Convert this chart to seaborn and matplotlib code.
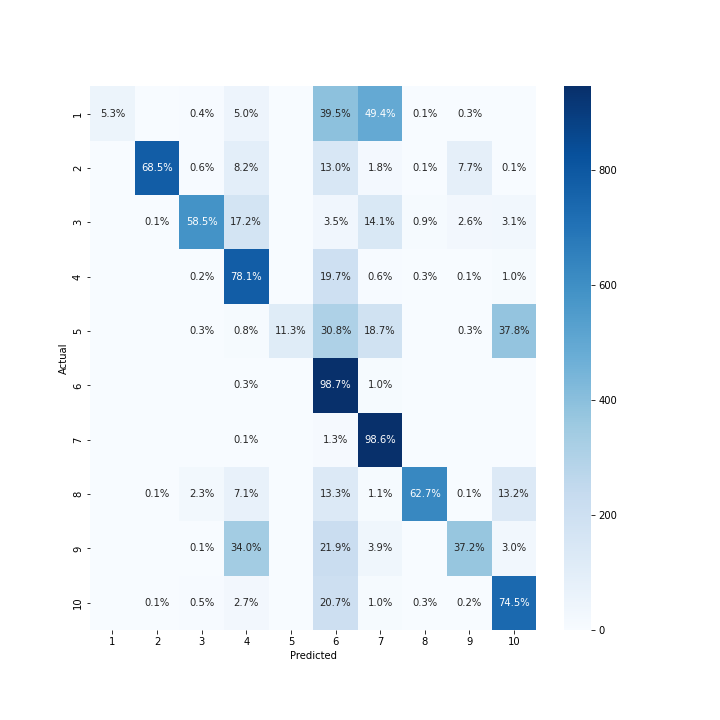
import numpy as np
import matplotlib
matplotlib.use("Agg")
import matplotlib.pyplot as plt
import seaborn as sns

classes = ["1", "2", "3", "4", "5", "6", "7", "8", "9", "10"]

# row-normalised percentages (Actual rows x Predicted columns), 0 = empty cell
row1 = [5.3, 0, 0.4, 5.0, 0, 39.5, 49.4, 0.1, 0.3, 0]
row2 = [0, 68.5, 0.6, 8.2, 0, 13.0, 1.8, 0.1, 7.7, 0.1]
row3 = [0, 0.1, 58.5, 17.2, 0, 3.5, 14.1, 0.9, 2.6, 3.1]
row4 = [0, 0, 0.2, 78.1, 0, 19.7, 0.6, 0.3, 0.1, 1.0]
row5 = [0, 0, 0.3, 0.8, 11.3, 30.8, 18.7, 0, 0.3, 37.8]
row6 = [0, 0, 0, 0.3, 0, 98.7, 1.0, 0, 0, 0]
row7 = [0, 0, 0, 0.1, 0, 1.3, 98.6, 0, 0, 0]
row8 = [0, 0.1, 2.3, 7.1, 0, 13.3, 1.1, 62.7, 0.1, 13.2]
row9 = [0, 0, 0.1, 34.0, 0, 21.9, 3.9, 0, 37.2, 3.0]
row10 = [0, 0.1, 0.5, 2.7, 0, 20.7, 1.0, 0.3, 0.2, 74.5]

# estimated number of samples per actual class
row_totals = [1000, 1140, 1000, 1000, 1000, 958, 958, 1000, 1000, 990]

pct = np.array([row1, row2, row3, row4, row5, row6, row7, row8, row9, row10])
counts = np.round(pct * np.array(row_totals)[:, None] / 100.0)
labels = np.where(pct > 0, np.vectorize(lambda v: f"{v:.1f}%")(pct), "")

fig = plt.figure(figsize=(10, 10), dpi=72)
fig.subplots_adjust(bottom=0.125, top=0.88, left=0.125, right=0.9)
ax = fig.add_subplot(111)
sns.heatmap(counts, annot=labels, fmt="", cmap="Blues", ax=ax,
            xticklabels=classes, yticklabels=classes,
            annot_kws={"fontsize": 10})
ax.set_xlabel("Predicted", fontsize=10)
ax.set_ylabel("Actual", fontsize=10)
plt.setp(ax.get_yticklabels(), rotation=90, va="center")
plt.setp(ax.get_xticklabels(), rotation=0)
fig.savefig("out.png", dpi=72)
